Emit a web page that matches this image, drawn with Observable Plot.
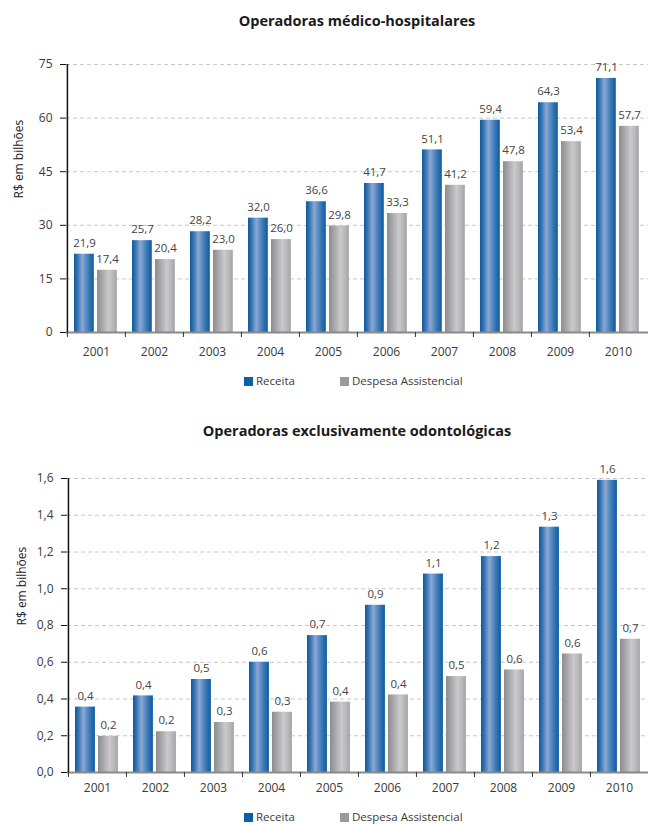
<!DOCTYPE html>
<html><head><meta charset="utf-8">
<script src="https://cdn.jsdelivr.net/npm/d3@7"></script>
<script src="https://cdn.jsdelivr.net/npm/@observablehq/plot@0.6"></script>
<style>
body{margin:0;background:#fff;font-family:"Open Sans",sans-serif;color:#333;}
#root{position:relative;width:648px;height:824px;overflow:hidden;background:#fff}
.title{position:absolute;left:66px;width:582px;text-align:center;font-weight:bold;font-size:14.5px;line-height:20px;color:#1a1a1a}
.leg{position:absolute;font-size:11.5px;line-height:16px;color:#3a3a3a;white-space:nowrap}
.sw{display:inline-block;width:9px;height:9px;margin-right:3px;vertical-align:-0.5px}
.chart{position:absolute;left:0}
</style></head><body><div id="root"></div>
<script>
// ---- data ----
const years = ["2001","2002","2003","2004","2005","2006","2007","2008","2009","2010"];
const seriesNames = ["Receita", "Despesa Assistencial"];
const seriesColors = ["#0b5fa3", "#9a9a9c"];

// Operadoras médico-hospitalares (R$ bilhões)
const receitaMH = [21.9, 25.7, 28.2, 32.0, 36.6, 41.7, 51.1, 59.4, 64.3, 71.1];
const despesaMH = [17.4, 20.4, 23.0, 26.0, 29.8, 33.3, 41.2, 47.8, 53.4, 57.7];
const labelsReceitaMH = receitaMH;
const labelsDespesaMH = despesaMH;
const yTicksMH = [0, 15, 30, 45, 60, 75];

// Operadoras exclusivamente odontológicas (R$ bilhões) — bar heights
const receitaOD = [0.356, 0.417, 0.506, 0.60, 0.745, 0.91, 1.08, 1.175, 1.335, 1.59];
const despesaOD = [0.197, 0.222, 0.272, 0.328, 0.383, 0.422, 0.522, 0.558, 0.645, 0.725];
const labelsReceitaOD = [0.4, 0.4, 0.5, 0.6, 0.7, 0.9, 1.1, 1.2, 1.3, 1.6];
const labelsDespesaOD = [0.2, 0.2, 0.3, 0.3, 0.4, 0.4, 0.5, 0.6, 0.6, 0.7];
const yTicksOD = [0, 0.2, 0.4, 0.6, 0.8, 1.0, 1.2, 1.4, 1.6];

const titles = ["Operadoras médico-hospitalares", "Operadoras exclusivamente odontológicas"];
const yLabel = "R$ em bilhões";

// ---- helpers ----
const comma1 = v => d3.format(".1f")(v).replace(".", ",");
const root = document.getElementById("root");

function addDefs(svg, id) {
  const defs = d3.select(svg).insert("defs", ":first-child");
  const gb = defs.append("linearGradient").attr("id", "gB" + id).attr("x1", "0%").attr("x2", "100%").attr("y1", "0%").attr("y2", "0%");
  [["0%", "#0d5a9b"], ["15%", "#2f6fae"], ["42%", "#8aa8d4"], ["75%", "#3a78b5"], ["100%", "#0a5ca1"]]
    .forEach(([o, c]) => gb.append("stop").attr("offset", o).attr("stop-color", c));
  const gg = defs.append("linearGradient").attr("id", "gG" + id).attr("x1", "0%").attr("x2", "100%").attr("y1", "0%").attr("y2", "0%");
  [["0%", "#8c8c8e"], ["25%", "#a6a6a8"], ["58%", "#cacacc"], ["85%", "#b4b4b6"], ["100%", "#a2a2a4"]]
    .forEach(([o, c]) => gg.append("stop").attr("offset", o).attr("stop-color", c));
}

function makeChart(cfg) {
  const {id, top, height, left, receita, despesa, recLabels, despLabels, yTicks, yFmt, xPad, labelX} = cfg;
  const rows = years.map((y, i) => ({year: y, r: receita[i], d: despesa[i], rl: recLabels[i], dl: despLabels[i]}));
  const band = (648 - left) / years.length;
  const svg = Plot.plot({
    width: 648, height,
    marginTop: 24, marginBottom: 30, marginLeft: left, marginRight: 0,
    style: {fontFamily: '"Open Sans",sans-serif', fontSize: "12px", color: "#333", background: "transparent", overflow: "visible"},
    x: {domain: years, padding: 0},
    y: {domain: [yTicks[0], yTicks[yTicks.length - 1]]},
    marks: [
      Plot.gridY(yTicks.slice(1), {stroke: "#c8c8c8", strokeOpacity: 1, strokeDasharray: "4,3"}),
      Plot.barY(rows, {x: "year", y: "r", fill: `url(#gB${id})`, insetLeft: 7, insetRight: band - 27}),
      Plot.barY(rows, {x: "year", y: "d", fill: `url(#gG${id})`, insetLeft: 30, insetRight: band - 50}),
      Plot.text(rows, {x: "year", y: "r", text: d => comma1(d.rl), dx: -12, dy: -11, fill: "#444", fontSize: 11.5}),
      Plot.text(rows, {x: "year", y: "d", text: d => comma1(d.dl), dx: 11, dy: -11, fill: "#444", fontSize: 11.5}),
      Plot.ruleY([0], {stroke: "#8a8a8a", strokeWidth: 2}),
      Plot.ruleX([years[0]], {dx: -band / 2, stroke: "#111", strokeWidth: 1.5}),
      Plot.axisX({tickSize: 0, tickPadding: xPad, label: null, fill: "#3a3a3a", fontSize: 12}),
      Plot.axisX({tickSize: 5, dx: -band / 2, text: null, label: null, stroke: "#333"}),
      Plot.axisY({ticks: yTicks, tickSize: 6, tickPadding: 8, tickFormat: yFmt, label: null, stroke: "#111", fill: "#3a3a3a", fontSize: 12}),
      Plot.text([yLabel], {frameAnchor: "left", rotate: -90, dx: labelX - left, fill: "#222", fontSize: 12})
    ]
  });
  addDefs(svg, id);
  svg.classList.add("chart");
  svg.style.top = top + "px";
  return svg;
}

function addTitle(text, top) {
  const d = document.createElement("div");
  d.className = "title";
  d.style.top = top + "px";
  d.textContent = text;
  root.appendChild(d);
}

function addLegend(top) {
  const lefts = [244, 340];
  seriesNames.forEach((name, i) => {
    const d = document.createElement("div");
    d.className = "leg";
    d.style.top = top + "px";
    d.style.left = lefts[i] + "px";
    const sw = document.createElement("span");
    sw.className = "sw";
    sw.style.background = seriesColors[i];
    d.appendChild(sw);
    d.appendChild(document.createTextNode(name));
    root.appendChild(d);
  });
}

addTitle(titles[0], 11);
root.appendChild(makeChart({id: "a", top: 40, height: 322, left: 66, receita: receitaMH, despesa: despesaMH,
  recLabels: labelsReceitaMH, despLabels: labelsDespesaMH, yTicks: yTicksMH, yFmt: d3.format("d"), xPad: 15, labelX: 19}));
addLegend(373);

addTitle(titles[1], 421);
root.appendChild(makeChart({id: "b", top: 454, height: 348, left: 67, receita: receitaOD, despesa: despesaOD,
  recLabels: labelsReceitaOD, despLabels: labelsDespesaOD, yTicks: yTicksOD, yFmt: comma1, xPad: 11, labelX: 22}));
addLegend(809);
</script></body></html>
